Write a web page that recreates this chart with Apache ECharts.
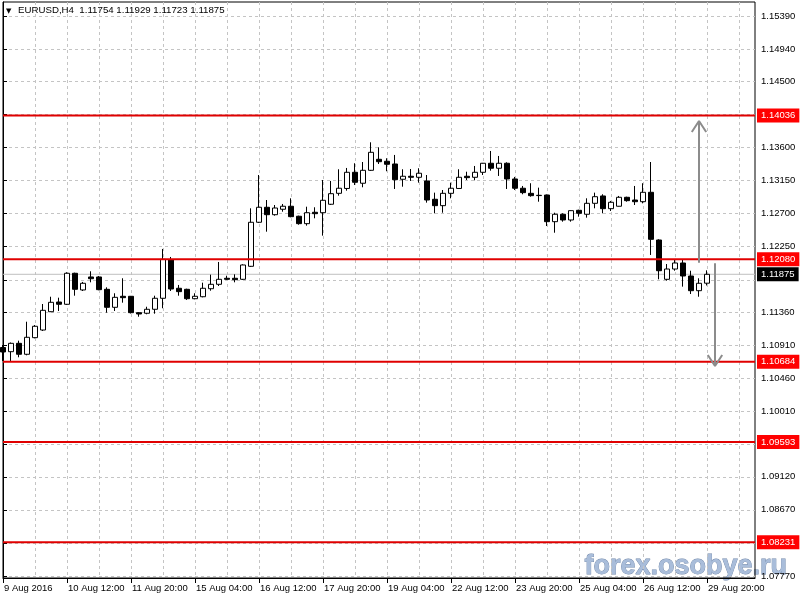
<!DOCTYPE html>
<html><head><meta charset="utf-8">
<script src="https://cdn.jsdelivr.net/npm/echarts@6/dist/echarts.min.js"></script>
<style>html,body{margin:0;padding:0;background:#fff}#c{width:800px;height:600px}</style>
</head><body><div id="c"></div><script>
const categories = [
"9 Aug 2016","9 Aug 08:00","9 Aug 12:00","9 Aug 16:00","9 Aug 20:00","10 Aug 00:00","10 Aug 04:00","10 Aug 08:00",
"10 Aug 12:00","10 Aug 16:00","10 Aug 20:00","11 Aug 00:00","11 Aug 04:00","11 Aug 08:00","11 Aug 12:00","11 Aug 16:00",
"11 Aug 20:00","12 Aug 00:00","12 Aug 04:00","12 Aug 08:00","12 Aug 12:00","12 Aug 16:00","12 Aug 20:00","15 Aug 00:00",
"15 Aug 04:00","15 Aug 08:00","15 Aug 12:00","15 Aug 16:00","15 Aug 20:00","16 Aug 00:00","16 Aug 04:00","16 Aug 08:00",
"16 Aug 12:00","16 Aug 16:00","16 Aug 20:00","17 Aug 00:00","17 Aug 04:00","17 Aug 08:00","17 Aug 12:00","17 Aug 16:00",
"17 Aug 20:00","18 Aug 00:00","18 Aug 04:00","18 Aug 08:00","18 Aug 12:00","18 Aug 16:00","18 Aug 20:00","19 Aug 00:00",
"19 Aug 04:00","19 Aug 08:00","19 Aug 12:00","19 Aug 16:00","19 Aug 20:00","22 Aug 00:00","22 Aug 04:00","22 Aug 08:00",
"22 Aug 12:00","22 Aug 16:00","22 Aug 20:00","23 Aug 00:00","23 Aug 04:00","23 Aug 08:00","23 Aug 12:00","23 Aug 16:00",
"23 Aug 20:00","24 Aug 00:00","24 Aug 04:00","24 Aug 08:00","24 Aug 12:00","24 Aug 16:00","24 Aug 20:00","25 Aug 00:00",
"25 Aug 04:00","25 Aug 08:00","25 Aug 12:00","25 Aug 16:00","25 Aug 20:00","26 Aug 00:00","26 Aug 04:00","26 Aug 08:00",
"26 Aug 12:00","26 Aug 16:00","26 Aug 20:00","29 Aug 00:00","29 Aug 04:00","29 Aug 08:00","29 Aug 12:00","29 Aug 16:00",
"29 Aug 20:00","","","","","",""
];
const opens = [
1.10879,1.10822,1.10936,1.10787,1.11013,1.11117,1.11366,1.11498,
1.11467,1.11889,1.11662,1.11839,1.11839,1.11671,1.11426,1.11576,
1.11576,1.11353,1.11345,1.11399,1.11549,1.12070,1.11685,1.11671,
1.11543,1.11570,1.11679,1.11739,1.11821,1.11821,1.11807,1.11984,
1.12583,1.12787,1.12686,1.12760,1.12801,1.12665,1.12564,1.12719,
1.12713,1.12828,1.12977,1.13043,1.13263,1.13114,1.13290,1.13440,
1.13413,1.13376,1.13168,1.13209,1.13195,1.13145,1.12896,1.12809,
1.12977,1.13043,1.13209,1.13195,1.13263,1.13386,1.13318,1.13386,
1.13172,1.13046,1.12977,1.12950,1.12954,1.12591,1.12692,1.12614,
1.12746,1.12692,1.12841,1.12941,1.12768,1.12801,1.12923,1.12886,
1.12863,1.12991,1.12342,1.11807,1.11947,1.12029,1.11852,1.11652,
1.11754
];
const highs = [
1.10913,1.10947,1.10972,1.11230,1.11185,1.11471,1.11570,1.11557,
1.11903,1.11897,1.11771,1.11916,1.11852,1.11698,1.11617,1.11821,
1.11580,1.11362,1.11434,1.11584,1.12220,1.12111,1.11730,1.11679,
1.11617,1.11761,1.11870,1.12043,1.11856,1.11875,1.12011,1.12773,
1.13226,1.12886,1.12818,1.12832,1.12909,1.12673,1.12795,1.12787,
1.13158,1.13145,1.13304,1.13322,1.13386,1.13403,1.13671,1.13603,
1.13454,1.13499,1.13304,1.13308,1.13318,1.13226,1.12986,1.13022,
1.13122,1.13304,1.13271,1.13349,1.13390,1.13553,1.13485,1.13399,
1.13200,1.13077,1.13114,1.13054,1.12961,1.12713,1.12705,1.12746,
1.12754,1.12909,1.12986,1.12964,1.12873,1.12941,1.12931,1.13077,
1.13114,1.13403,1.12351,1.12015,1.12070,1.12070,1.11924,1.11821,
1.11929
];
const lows = [
1.10696,1.10696,1.10746,1.10773,1.11004,1.11104,1.11362,1.11376,
1.11458,1.11584,1.11648,1.11766,1.11658,1.11353,1.11376,1.11489,
1.11342,1.11298,1.11331,1.11339,1.11413,1.11648,1.11584,1.11526,
1.11535,1.11562,1.11652,1.11716,1.11798,1.11766,1.11798,1.11975,
1.12573,1.12455,1.12673,1.12727,1.12651,1.12550,1.12537,1.12637,
1.12401,1.12818,1.12945,1.13013,1.13090,1.13059,1.13281,1.13376,
1.13277,1.13036,1.13067,1.13145,1.13122,1.12850,1.12705,1.12713,
1.12909,1.13040,1.13158,1.13154,1.13226,1.13285,1.13213,1.13036,
1.13022,1.12964,1.12931,1.12863,1.12532,1.12441,1.12591,1.12591,
1.12659,1.12646,1.12773,1.12705,1.12737,1.12798,1.12863,1.12818,
1.12841,1.12138,1.11807,1.11788,1.11924,1.11707,1.11607,1.11570,
1.11723
];
const closes = [
1.10818,1.10936,1.10787,1.11018,1.11168,1.11385,1.11494,1.11467,
1.11889,1.11671,1.11753,1.11815,1.11666,1.11426,1.11562,1.11557,
1.11353,1.11335,1.11399,1.11549,1.12079,1.11675,1.11639,1.11543,
1.11576,1.11685,1.11739,1.11807,1.11807,1.11802,1.12002,1.12583,
1.12787,1.12686,1.12777,1.12801,1.12659,1.12564,1.12713,1.12700,
1.12882,1.12972,1.13046,1.13263,1.13127,1.13290,1.13535,1.13407,
1.13372,1.13162,1.13209,1.13195,1.13250,1.12886,1.12809,1.12977,
1.13046,1.13195,1.13190,1.13263,1.13386,1.13318,1.13386,1.13172,
1.13046,1.12986,1.12945,1.12946,1.12591,1.12692,1.12614,1.12741,
1.12705,1.12841,1.12931,1.12768,1.12855,1.12923,1.12877,1.12863,
1.12991,1.12351,1.11924,1.11947,1.12029,1.11852,1.11652,1.11753,
1.11875
];
const levels = [1.14036, 1.12080, 1.10684, 1.09593, 1.08231];
const lastPrice = 1.11875;
const gridTicks = [1.15390,1.14940,1.14500,1.14050,1.13600,1.13150,1.12700,1.12250,1.11800,1.11360,1.10910,1.10460,1.10010,1.09560,1.09120,1.08670,1.08220,1.07770];
const tickLabels = [1.15390,1.14940,1.14500,1.13600,1.13150,1.12700,1.12250,1.11360,1.10910,1.10460,1.10010,1.09120,1.08670,1.07770];
const arrowUp = {bar: 87, from: 1.12033, to: 1.13961};
const arrowDown = {bar: 89, from: 1.12025, to: 1.10627};
const titleText = "EURUSD,H4  1.11754 1.11929 1.11723 1.11875";
const watermark = "forex.osobye.ru";

const FONT = "Liberation Sans";
const FS = 9.5;
const LAST = categories.length - 1;
const candleData = opens.map((o, i) => [o, closes[i], lows[i], highs[i]]);
const headW = 0.9, headH = 0.0015;
const fmt = v => Number(v).toFixed(5);
function arrowSeries(a, dir) {
  return [
    { type: 'line', xAxisIndex: 1, symbol: 'none', silent: true, z: 6,
      lineStyle: { color: '#8c8c8c', width: 2 }, data: [[a.bar, a.from], [a.bar, a.to]] },
    { type: 'line', xAxisIndex: 1, symbol: 'none', silent: true, z: 6,
      lineStyle: { color: '#8c8c8c', width: 2 },
      data: [[a.bar - headW, a.to - dir * headH], [a.bar, a.to], [a.bar + headW, a.to - dir * headH]] }
  ];
}
function levelSeries(v, color, width, bg, z) {
  return { type: 'line', xAxisIndex: 1, symbol: 'none', silent: true, z: z, clip: false,
    lineStyle: { color: color, width: width },
    data: [[0, v], [LAST, v]],
    endLabel: { show: true, formatter: fmt(v), distance: 2, color: '#fff', backgroundColor: bg,
      padding: [2, 4, 2, 4], fontFamily: FONT, fontSize: FS } };
}
const chart = echarts.init(document.getElementById('c'), null, { renderer: 'canvas' });
chart.setOption({
  animation: false,
  backgroundColor: '#ffffff',
  grid: { left: 3, right: 45, top: 2, bottom: 22, show: true, borderColor: '#000', borderWidth: 1, backgroundColor: 'transparent' },
  xAxis: [{
    type: 'category', data: categories, boundaryGap: false,
    axisLine: { show: true, lineStyle: { color: '#000', width: 1 } },
    axisTick: { show: true, interval: 7, length: 5, lineStyle: { color: '#000' } },
    axisLabel: { interval: 7, align: 'left', margin: 5, color: '#000', fontFamily: FONT, fontSize: FS, padding: [0, 0, 0, 1] },
    splitLine: { show: true, interval: 3, lineStyle: { color: '#c4c4c4', type: [3, 3], width: 1 } }
  }, {
    type: 'value', min: 0, max: LAST, show: false
  }],
  yAxis: [{
    type: 'value', position: 'right', min: 1.07743, max: 1.15580,
    axisLine: { show: true, lineStyle: { color: '#000', width: 1 } },
    axisTick: { show: true, length: 4, customValues: gridTicks, lineStyle: { color: '#000' } },
    axisLabel: { customValues: tickLabels, formatter: fmt, color: '#000', fontFamily: FONT, fontSize: FS, margin: 6 },
    splitLine: { show: true, lineStyle: { color: '#c4c4c4', type: [3, 3], width: 1 } }
  }],
  series: [
    levelSeries(lastPrice, '#c0c0c0', 1, '#000', 2),
    { type: 'candlestick', data: candleData, barWidth: 5, z: 3,
      itemStyle: { color: '#ffffff', color0: '#000000', borderColor: '#000000', borderColor0: '#000000', borderWidth: 1 } }
  ].concat(levels.map(v => levelSeries(v, '#e00000', 2, '#ff0000', 5)),
           arrowSeries(arrowUp, 1), arrowSeries(arrowDown, -1)),
  graphic: [
    { type: 'text', left: 6, top: 8, z: 100, style: { text: '▼', fill: '#000', font: '7px "DejaVu Sans"' } },
    { type: 'text', left: 18, top: 5, z: 100, style: { text: titleText, fill: '#000', font: '9.7px "' + FONT + '"' } },
    { type: 'text', left: 584, top: 553, z: -1,
      style: { text: watermark, fill: '#a9bdda', font: 'bold 27px "' + FONT + '"',
               stroke: '#6f86a8', lineWidth: 0.8, shadowColor: 'rgba(60,70,90,0.6)', shadowBlur: 2, shadowOffsetX: 1, shadowOffsetY: 1 } }
  ]
});
</script></body></html>
